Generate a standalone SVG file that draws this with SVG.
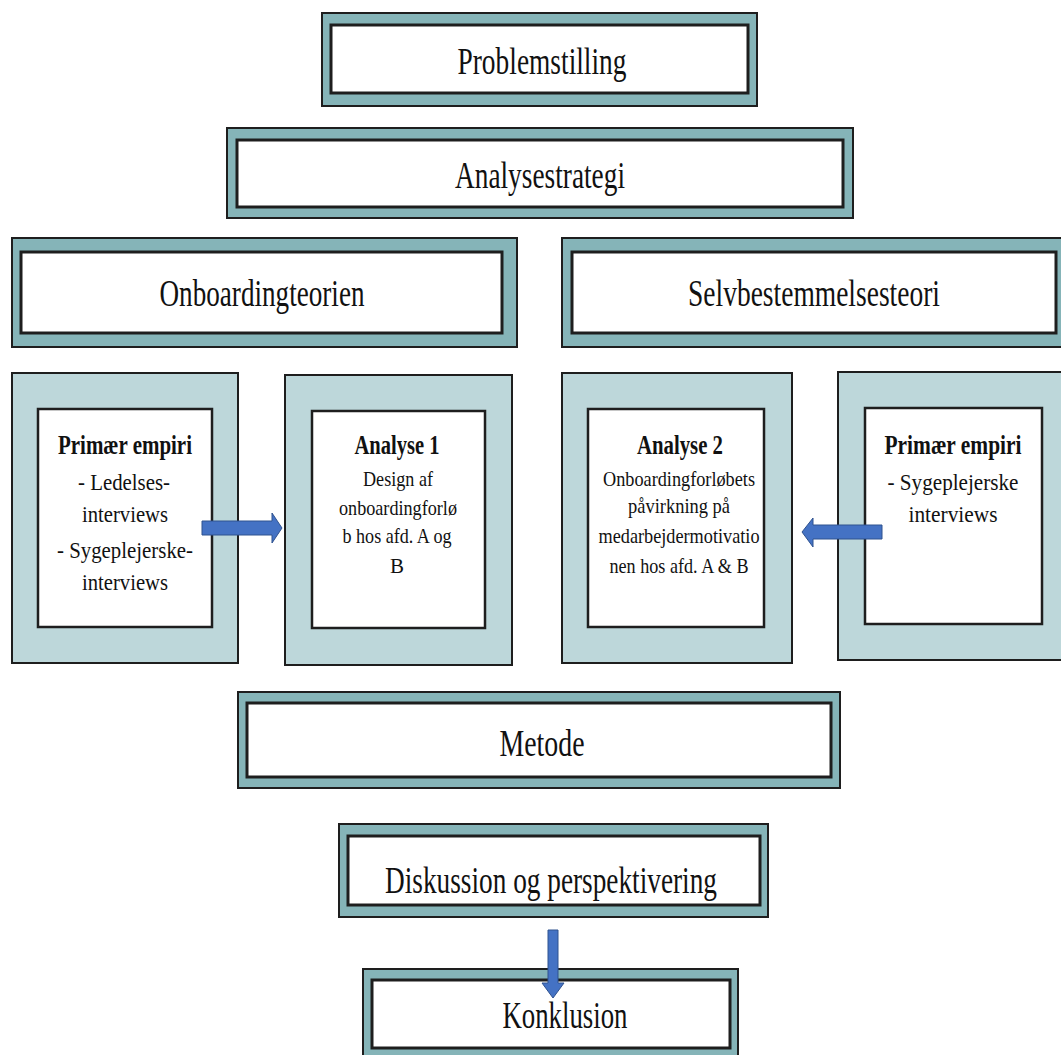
<svg xmlns="http://www.w3.org/2000/svg" width="1061" height="1055" viewBox="0 0 1061 1055">
  <style>
    .frame { fill: #85b4b8; stroke: #1e1e1e; stroke-width: 2; }
    .frame-light { fill: #bdd7da; stroke: #1e1e1e; stroke-width: 2; }
    .panel { fill: #ffffff; stroke: #1e1e1e; stroke-width: 3; }
    .panel-thin { fill: #ffffff; stroke: #1e1e1e; stroke-width: 2.5; }
    text { font-family: "Liberation Serif", "Times New Roman", serif; fill: #111111; text-anchor: middle; }
    .title { font-size: 38px; }
    .head { font-size: 27px; font-weight: bold; }
    .body { font-size: 24px; }
    .small { font-size: 21px; }
    .arrow { fill: #4472c4; stroke: #2f528f; stroke-width: 1; }
  </style>

  <rect width="1061" height="1055" fill="#ffffff"/>

  <g id="problemstilling">
    <rect class="frame" x="322" y="13" width="435" height="93"/>
    <rect class="panel" x="331" y="25" width="417" height="68"/>
    <text class="title" x="542" y="74" textLength="169" lengthAdjust="spacingAndGlyphs">Problemstilling</text>
  </g>

  <g id="analysestrategi">
    <rect class="frame" x="227" y="128" width="626" height="90"/>
    <rect class="panel" x="237" y="140" width="606" height="67"/>
    <text class="title" x="540" y="188" textLength="170" lengthAdjust="spacingAndGlyphs">Analysestrategi</text>
  </g>

  <g id="onboardingteorien">
    <rect class="frame" x="12" y="238" width="505" height="109"/>
    <rect class="panel" x="21" y="252" width="481" height="81"/>
    <text class="title" x="262" y="306" textLength="205" lengthAdjust="spacingAndGlyphs">Onboardingteorien</text>
  </g>

  <g id="selvbestemmelsesteori">
    <rect class="frame" x="562" y="238" width="504" height="109"/>
    <rect class="panel" x="572" y="252" width="484" height="81"/>
    <text class="title" x="814" y="306" textLength="252" lengthAdjust="spacingAndGlyphs">Selvbestemmelsesteori</text>
  </g>

  <g id="empiri-ledelse">
    <rect class="frame-light" x="12" y="373" width="226" height="290"/>
    <rect class="panel-thin" x="38" y="409" width="174" height="218"/>
    <text class="head" x="125" y="454" textLength="134" lengthAdjust="spacingAndGlyphs">Primær empiri</text>
    <text class="body" x="124" y="490" textLength="92" lengthAdjust="spacingAndGlyphs">- Ledelses-</text>
    <text class="body" x="125" y="522" textLength="86" lengthAdjust="spacingAndGlyphs">interviews</text>
    <text class="body" x="125" y="558" textLength="136" lengthAdjust="spacingAndGlyphs">- Sygeplejerske-</text>
    <text class="body" x="125" y="590" textLength="86" lengthAdjust="spacingAndGlyphs">interviews</text>
  </g>

  <g id="analyse-1">
    <rect class="frame-light" x="285" y="375" width="227" height="290"/>
    <rect class="panel-thin" x="312" y="411" width="173" height="217"/>
    <text class="head" x="397" y="454" textLength="85" lengthAdjust="spacingAndGlyphs">Analyse 1</text>
    <text class="small" x="398" y="486" textLength="70" lengthAdjust="spacingAndGlyphs">Design af</text>
    <text class="small" x="398" y="515" textLength="118" lengthAdjust="spacingAndGlyphs">onboardingforlø</text>
    <text class="small" x="397" y="543" textLength="109" lengthAdjust="spacingAndGlyphs">b hos afd. A og</text>
    <text class="small" x="397" y="573">B</text>
  </g>

  <g id="analyse-2">
    <rect class="frame-light" x="562" y="373" width="230" height="290"/>
    <rect class="panel-thin" x="588" y="409" width="176" height="218"/>
    <text class="head" x="680" y="454" textLength="86" lengthAdjust="spacingAndGlyphs">Analyse 2</text>
    <text class="small" x="679" y="486" textLength="152" lengthAdjust="spacingAndGlyphs">Onboardingforløbets</text>
    <text class="small" x="679" y="513" textLength="102" lengthAdjust="spacingAndGlyphs">påvirkning på</text>
    <text class="small" x="679" y="543" textLength="161" lengthAdjust="spacingAndGlyphs">medarbejdermotivatio</text>
    <text class="small" x="679" y="573" textLength="139" lengthAdjust="spacingAndGlyphs">nen hos afd. A &amp; B</text>
  </g>

  <g id="empiri-sygeplejerske">
    <rect class="frame-light" x="838" y="372" width="230" height="288"/>
    <rect class="panel-thin" x="865" y="408" width="177" height="216"/>
    <text class="head" x="953" y="454" textLength="137" lengthAdjust="spacingAndGlyphs">Primær empiri</text>
    <text class="body" x="953" y="490" textLength="131" lengthAdjust="spacingAndGlyphs">- Sygeplejerske</text>
    <text class="body" x="953" y="522" textLength="89" lengthAdjust="spacingAndGlyphs">interviews</text>
  </g>

  <g id="metode">
    <rect class="frame" x="238" y="692" width="602" height="96"/>
    <rect class="panel" x="247" y="703" width="584" height="74"/>
    <text class="title" x="542" y="756" textLength="85" lengthAdjust="spacingAndGlyphs">Metode</text>
  </g>

  <g id="diskussion">
    <rect class="frame" x="339" y="824" width="429" height="93"/>
    <rect class="panel" x="348" y="836" width="412" height="69"/>
    <text class="title" x="551" y="893" textLength="332" lengthAdjust="spacingAndGlyphs">Diskussion og perspektivering</text>
  </g>

  <g id="konklusion">
    <rect class="frame" x="363" y="969" width="375" height="95"/>
    <rect class="panel" x="372" y="980" width="358" height="68"/>
    <text class="title" x="565" y="1028" textLength="125" lengthAdjust="spacingAndGlyphs">Konklusion</text>
  </g>

  <g id="connectors">
    <!-- empiri (ledelse) to Analyse 1 -->
    <polygon class="arrow" points="202,521 272,521 272,513 282,528 272,543 272,535 202,535"/>
    <!-- empiri (sygeplejerske) to Analyse 2 -->
    <polygon class="arrow" points="882,525 813,525 813,518 802,532 813,547 813,539 882,539"/>
    <!-- Diskussion to Konklusion -->
    <polygon class="arrow" points="548,930 558,930 558,983 564,983 553,998 542,983 548,983"/>
  </g>
</svg>
